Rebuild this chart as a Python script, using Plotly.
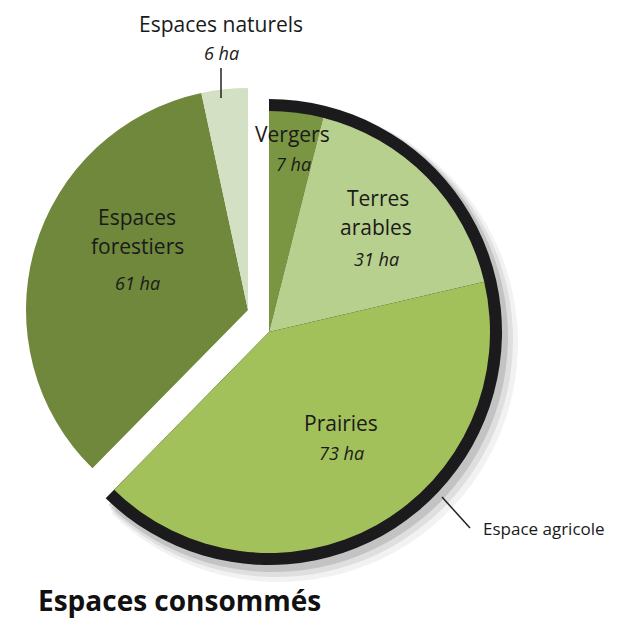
import plotly.graph_objects as go

# ---- data ----
categories = ["Vergers", "Terres arables", "Prairies", "Espaces forestiers", "Espaces naturels"]
values_ha = [7, 31, 73, 61, 6]
groups = ["agricole", "agricole", "agricole", "autre", "autre"]
label_lines = [["Vergers"], ["Terres", "arables"], ["Prairies"], ["Espaces", "forestiers"], ["Espaces naturels"]]
group_label = "Espace agricole"
title_text = "Espaces consommés"

colors = ["#7b9643", "#b8d08e", "#a3c15a", "#6f883c", "#d4e0c3"]
OFF = 8  # page body margin
W, H = 629 - OFF, 626 - OFF
TRANSP = "rgba(0,0,0,0)"


def dom(cx, cy, r):
    cx, cy = cx - OFF, cy - OFF
    return dict(x=[(cx - r) / W, (cx + r) / W], y=[1 - (cy + r) / H, 1 - (cy - r) / H])


def px(x, y):
    return (x - OFF) / W, 1 - (y - OFF) / H


agri_total = sum(v for v, g in zip(values_ha, groups) if g == "agricole")
other_total = sum(v for v, g in zip(values_ha, groups) if g != "agricole")

common = dict(sort=False, direction="clockwise", rotation=0, textinfo="none",
              hoverinfo="skip", showlegend=False)

fig = go.Figure()

# soft shadow behind the agricultural part
for (dx, dy, r, a) in [(10, 11, 239, 0.05), (7, 8, 237, 0.08), (4, 5, 235, 0.12)]:
    fig.add_trace(go.Pie(values=[agri_total, other_total], domain=dom(269 + dx, 332 + dy, r),
                         marker=dict(colors=[f"rgba(0,0,0,{a})", TRANSP], line=dict(width=0)), **common))

# black rim of the agricultural part
fig.add_trace(go.Pie(values=[agri_total, other_total], domain=dom(269, 332, 233),
                     marker=dict(colors=["#1b1a1d", TRANSP], line=dict(width=0)), **common))

# agricultural slices
fig.add_trace(go.Pie(labels=categories, values=values_ha, domain=dom(269, 332, 221),
                     marker=dict(colors=[c if g == "agricole" else TRANSP for c, g in zip(colors, groups)],
                                 line=dict(width=0)), **common))

# detached forest / natural slices
fig.add_trace(go.Pie(labels=categories, values=values_ha, domain=dom(248, 310, 222),
                     marker=dict(colors=[c if g != "agricole" else TRANSP for c, g in zip(colors, groups)],
                                 line=dict(width=0)), **common))

REG = "Open Sans, Noto Sans, sans-serif"
annots = []


def add_text(x, y, text, size, family=REG, color="#1a1a1a", italic=False, bold=False):
    t = text
    if italic:
        t = f"<i>{t}</i>"
    if bold:
        t = f"<b>{t}</b>"
    ax, ay = px(x, y)
    annots.append(dict(x=ax, y=ay, xref="paper", yref="paper", text=t, showarrow=False,
                       xanchor="center", yanchor="middle",
                       font=dict(size=size, family=family, color=color)))


# label positions (pixels) : name lines then value
label_pos = {
    0: ([(292, 134)], (293, 164)),
    1: ([(378, 198), (376, 227)], (376, 259)),
    2: ([(341, 423)], (341, 453)),
    3: ([(137, 217), (137, 246)], (137, 283)),
    4: ([(221, 24)], (221, 53)),
}
for i, (lines_pos, vpos) in label_pos.items():
    for line, (lx, ly) in zip(label_lines[i], lines_pos):
        add_text(lx, ly, line, 21)
    add_text(vpos[0], vpos[1], f"{values_ha[i]} ha", 18, italic=True)

add_text(544, 528, group_label, 17)
add_text(179, 600, title_text, 28, color="#111111", bold=True)

shapes = []
x0, y0 = px(221, 68)
x1, y1 = px(221, 98)
shapes.append(dict(type="line", xref="paper", yref="paper", x0=x0, y0=y0, x1=x1, y1=y1,
                   line=dict(color="#222", width=1.5)))
x0, y0 = px(442, 497)
x1, y1 = px(470, 528)
shapes.append(dict(type="line", xref="paper", yref="paper", x0=x0, y0=y0, x1=x1, y1=y1,
                   line=dict(color="#222", width=1.5)))

fig.update_layout(width=W, height=H, margin=dict(l=0, r=0, t=0, b=0),
                  paper_bgcolor="white", plot_bgcolor="white",
                  annotations=annots, shapes=shapes)

fig.write_html("out.html")
